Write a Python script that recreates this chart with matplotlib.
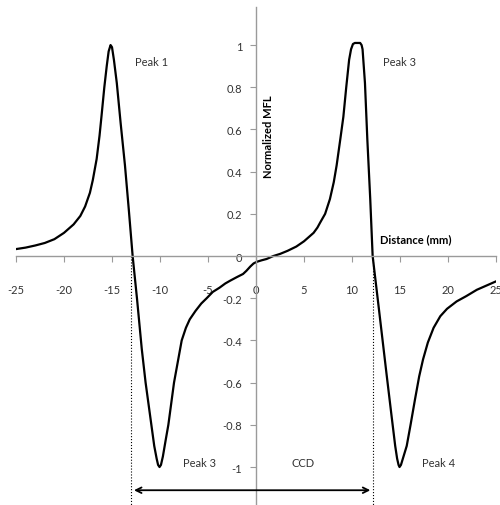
import matplotlib
matplotlib.use('Agg')
import matplotlib.pyplot as plt

plt.rcParams['font.family'] = ['Lato', 'DejaVu Sans']

# MFL signal
distance = [-25, -24, -23, -22, -21, -20, -19, -18.3, -17.8, -17.3,
            -17.0, -16.6, -16.3, -16.1, -15.8, -15.55, -15.35, -15.15, -15.0, -14.8,
            -14.5, -14.1, -13.65, -13.25, -12.85, -12.4, -11.9, -11.5, -10.9, -10.6,
            -10.35, -10.2, -10.05, -9.9, -9.7, -9.4, -9.13, -8.54, -8.1, -7.74,
            -7.3, -6.9, -6.3, -5.7, -5.14, -4.5, -3.8, -3.2, -2.7, -2.0,
            -1.35, -1.0, -0.6, -0.25, 0.1, 0.6, 1.1, 1.8, 2.5, 3.3,
            4.2, 5.0, 5.5, 6.0, 6.4, 6.7, 7.2, 7.7, 8.1, 8.4,
            8.8, 9.1, 9.4, 9.7, 9.9, 10.1, 10.3, 10.6, 10.85, 11.0,
            11.1, 11.35, 11.6, 11.9, 12.15, 12.8, 13.6, 14.1, 14.5, 14.7,
            14.85, 14.95, 15.1, 15.3, 15.7, 16.1, 16.56, 17.0, 17.4, 17.9,
            18.5, 19.2, 19.9, 20.9, 21.9, 23.0, 24.0, 25]
mfl = [0.033, 0.04, 0.05, 0.062, 0.08, 0.11, 0.15, 0.19, 0.235, 0.30,
       0.36, 0.46, 0.57, 0.66, 0.80, 0.90, 0.97, 1.0, 0.99, 0.93,
       0.82, 0.63, 0.43, 0.22, 0.0, -0.2, -0.44, -0.6, -0.8, -0.9,
       -0.96, -0.99, -1.0, -0.99, -0.95, -0.87, -0.8, -0.6, -0.49, -0.4,
       -0.34, -0.3, -0.26, -0.225, -0.2, -0.17, -0.15, -0.13, -0.117, -0.1,
       -0.085, -0.07, -0.05, -0.035, -0.027, -0.02, -0.014, 0.0, 0.01, 0.025,
       0.045, 0.07, 0.09, 0.11, 0.135, 0.16, 0.2, 0.27, 0.35, 0.43,
       0.56, 0.66, 0.8, 0.93, 0.98, 1.005, 1.01, 1.01, 1.01, 1.0,
       0.98, 0.82, 0.55, 0.27, 0.0, -0.25, -0.56, -0.75, -0.9, -0.96,
       -0.99, -1.0, -0.99, -0.96, -0.9, -0.8, -0.68, -0.57, -0.49, -0.41,
       -0.34, -0.285, -0.25, -0.215, -0.19, -0.16, -0.14, -0.12]

x_ticks = [-25, -20, -15, -10, -5, 0, 5, 10, 15, 20, 25]
y_ticks = [-1, -0.8, -0.6, -0.4, -0.2, 0, 0.2, 0.4, 0.6, 0.8, 1]

peak_labels = ['Peak 1', 'Peak 3', 'Peak 3', 'Peak 4']
peak_x = [-12.6, 13.2, -7.6, 17.3]
peak_y = [0.92, 0.92, -0.98, -0.98]

ccd_left, ccd_right = -13.0, 12.2

fig = plt.figure(figsize=(5.0, 5.06), dpi=100)
ax = fig.add_axes([0.032, 0.0, 0.96, 0.984])

ax.plot(distance, mfl, color='black', lw=1.6, solid_joinstyle='round')

ax.set_xlim(-25, 25)
ax.set_ylim(-1.18, 1.18)

ax.spines['left'].set_position(('data', 0))
ax.spines['bottom'].set_position(('data', 0))
ax.spines['right'].set_visible(False)
ax.spines['top'].set_visible(False)
for s in ['left', 'bottom']:
    ax.spines[s].set_color('#9a9a9a')
    ax.spines[s].set_linewidth(1.0)

ax.set_xticks(x_ticks)
ax.set_xticklabels([str(v) for v in x_ticks])
ax.set_yticks(y_ticks)
ax.set_yticklabels([f'{v:g}' for v in y_ticks])
ax.tick_params(axis='x', direction='out', length=4, color='#9a9a9a',
               labelsize=8, labelcolor='#333333', pad=16)
ax.tick_params(axis='y', direction='out', length=4, color='#9a9a9a',
               labelsize=8, labelcolor='#333333', pad=6)

for lbl, px, py in zip(peak_labels, peak_x, peak_y):
    ax.text(px, py, lbl, fontsize=8, color='#333333', va='center', ha='left')

ax.text(3.75, -0.98, 'CCD', fontsize=8, color='#333333', va='center', ha='left')
ax.text(1.25, 0.57, 'Normalized MFL', rotation=90, fontsize=8, fontweight='bold',
        va='center', ha='center')
ax.text(12.9, 0.08, 'Distance (mm)', fontsize=8, fontweight='bold',
        va='center', ha='left')

# crack-center distance markers
ax.plot([ccd_left, ccd_left], [0, -1.18], color='black', lw=0.8, ls=':')
ax.plot([ccd_right, ccd_right], [0, -1.18], color='black', lw=0.8, ls=':')
ax.annotate('', xy=(ccd_left, -1.11), xytext=(ccd_right, -1.11),
            arrowprops=dict(arrowstyle='<->', color='black', lw=1.3))

plt.savefig('out.png', dpi=100)
